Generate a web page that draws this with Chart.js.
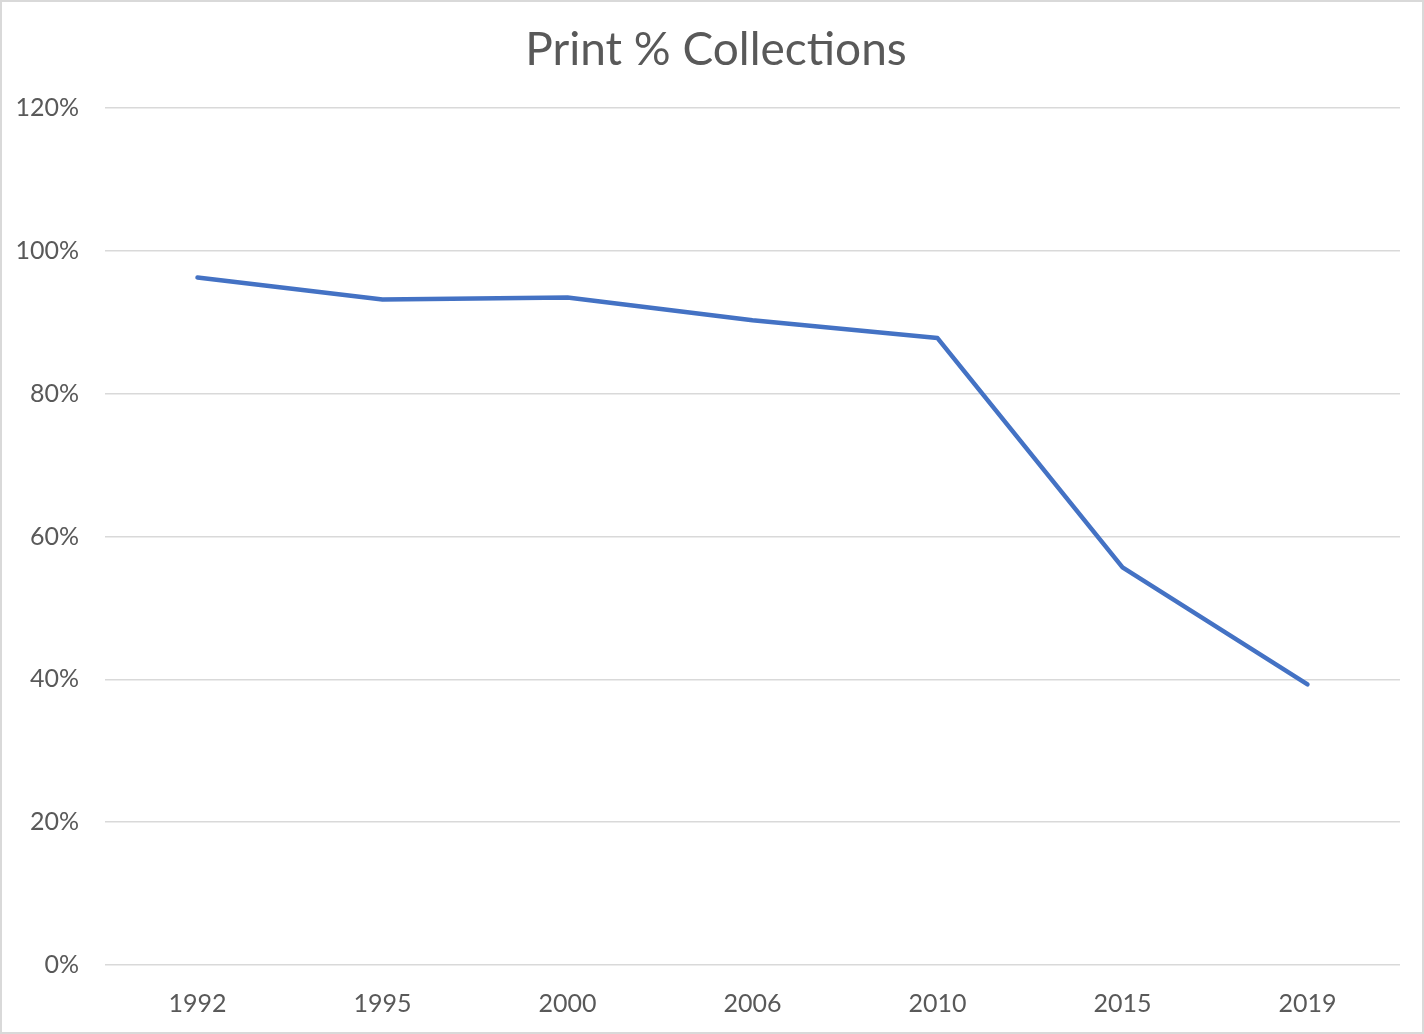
<!DOCTYPE html>
<html>
<head>
<meta charset="utf-8">
<script src="https://cdn.jsdelivr.net/npm/chart.js@4"></script>
<style>
  html, body { margin: 0; padding: 0; background: #fff; }
  #wrap { width: 1424px; height: 1034px; }
</style>
</head>
<body>
<div id="wrap"><canvas id="printChart" width="1424" height="1034"></canvas></div>
<script>
const years = ["1992", "1995", "2000", "2006", "2010", "2015", "2019"];
const printShare = [96.3, 93.2, 93.5, 90.3, 87.8, 55.7, 39.3];
const yTicks = [0, 20, 40, 60, 80, 100, 120];

const textColor = "#595959";
const fontFamily = "Lato, 'Liberation Sans', sans-serif";

// light grey frame round the whole chart, like an Excel chart area;
// also nudges the title so it is centred on the canvas, not the padded box
const frame = {
  id: "frame",
  afterLayout(chart) {
    if (chart.titleBlock) chart.titleBlock.left += 32;
  },
  beforeDraw(chart) {
    const c = chart.ctx;
    c.save();
    c.fillStyle = "#fff";
    c.fillRect(0, 0, chart.width, chart.height);
    c.strokeStyle = "#d9d9d9";
    c.lineWidth = 2;
    c.strokeRect(1, 1, chart.width - 2, chart.height - 2);
    c.restore();
  }
};

const ctx = document.getElementById("printChart").getContext("2d");
new Chart(ctx, {
  type: "line",
  data: {
    labels: years,
    datasets: [{
      label: "Print %",
      data: printShare,
      borderColor: "#4472C4",
      borderWidth: 4.5,
      pointRadius: 0,
      borderCapStyle: "round",
      borderJoinStyle: "round",
      tension: 0,
      fill: false
    }]
  },
  options: {
    responsive: false,
    animation: false,
    layout: { padding: { left: 0, right: 24, top: 0, bottom: 0 } },
    plugins: {
      legend: { display: false },
      tooltip: { enabled: false },
      title: {
        display: true,
        text: "Print % Collections",
        color: textColor,
        font: { family: fontFamily, size: 46, weight: "normal" },
        padding: { top: 23, bottom: 30 }
      }
    },
    scales: {
      x: {
        offset: true,
        grid: { display: false, drawTicks: false },
        border: { display: false },
        ticks: {
          color: textColor,
          padding: 24,
          font: { family: fontFamily, size: 25 }
        },
        afterFit(scale) { scale.height = 69; }
      },
      y: {
        min: 0,
        max: 120,
        afterBuildTicks(scale) {
          scale.ticks = yTicks.map(v => ({ value: v }));
        },
        grid: { color: "#d9d9d9", lineWidth: 1.5, drawTicks: false },
        border: { display: false },
        ticks: {
          color: textColor,
          padding: 26,
          font: { family: fontFamily, size: 25 },
          callback: v => v + "%"
        },
        afterFit(scale) { scale.width = 105; }
      }
    }
  },
  plugins: [frame]
});
</script>
</body>
</html>
